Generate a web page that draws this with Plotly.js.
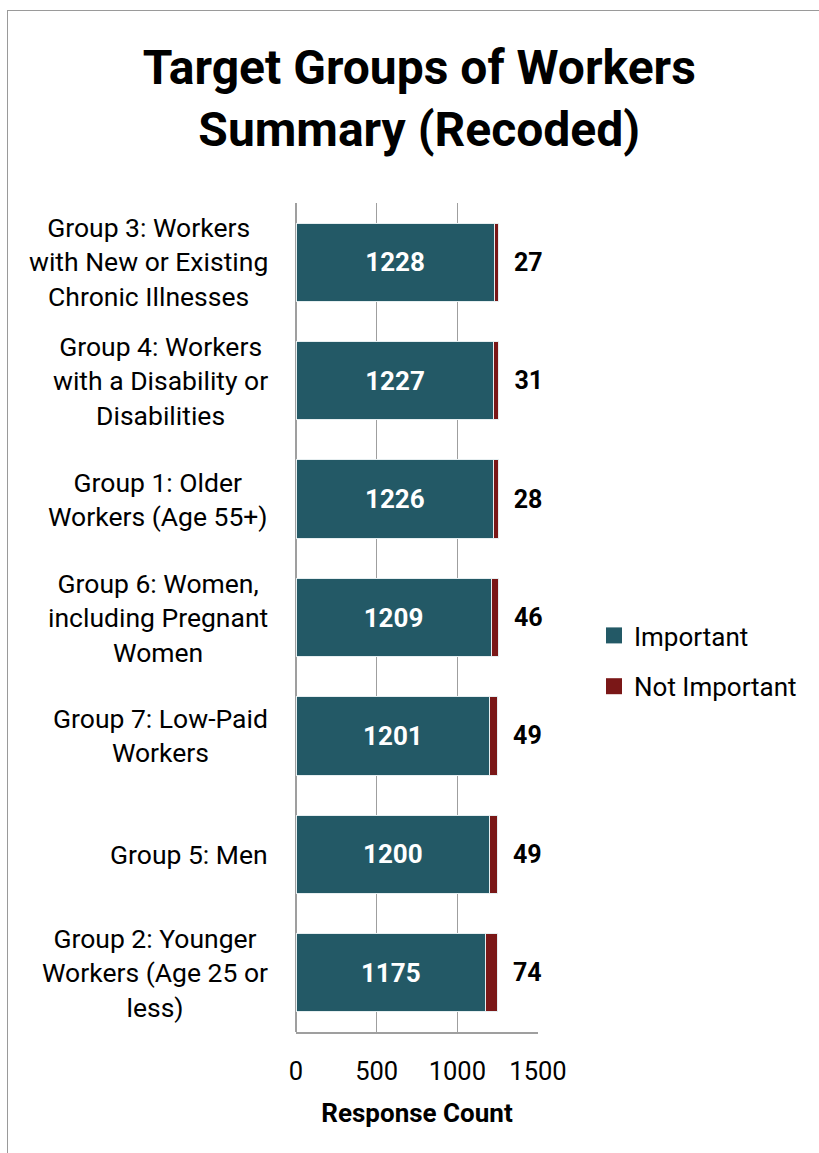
<!DOCTYPE html>
<html>
<head>
<meta charset="utf-8">
<script src="https://cdn.plot.ly/plotly-3.0.1.min.js"></script>
<style>
html,body{margin:0;padding:0;background:#fff;}
#wrap{position:relative;width:819px;height:1153px;overflow:hidden;}
#chart{position:absolute;left:0;top:0;width:819px;height:1153px;}
#frame{position:absolute;left:7px;top:10px;width:900px;height:1300px;border-left:1.5px solid #9a9a9a;border-top:1.5px solid #9a9a9a;pointer-events:none;}
</style>
</head>
<body>
<div id="wrap"><div id="chart"></div><div id="frame"></div></div>
<script>
const categories = [
  "Group 3: Workers<br>with New or Existing<br>Chronic Illnesses",
  "Group 4: Workers<br>with a Disability or<br>Disabilities",
  "Group 1: Older<br>Workers (Age 55+)",
  "Group 6: Women,<br>including Pregnant<br>Women",
  "Group 7: Low-Paid<br>Workers",
  "Group 5: Men",
  "Group 2: Younger<br>Workers (Age 25 or<br>less)"
];
const important = [1228, 1227, 1226, 1209, 1201, 1200, 1175];
const notImportant = [27, 31, 28, 46, 49, 49, 74];
const xTicks = [0, 500, 1000, 1500];
const seriesNames = ['Important', 'Not Important'];
const seriesColors = ['#235966', '#7a1717'];

const font = "Roboto, 'Noto Sans', sans-serif";

const traces = [
  {
    type: 'bar', orientation: 'h', name: seriesNames[0], showlegend: false,
    y: categories, x: important,
    marker: {color: seriesColors[0], line: {color: '#e6eef0', width: 1}},
    text: important.map(String), textposition: 'inside', insidetextanchor: 'middle',
    textfont: {family: font, size: 26, color: '#ffffff', weight: 'bold'},
    hoverinfo: 'x+name'
  },
  {
    type: 'bar', orientation: 'h', name: seriesNames[1], showlegend: false,
    y: categories, x: notImportant,
    marker: {color: seriesColors[1], line: {color: '#e6eef0', width: 1}},
    text: notImportant.map(v => '  ' + v), textposition: 'outside',
    textfont: {family: font, size: 25, color: '#000000', weight: 'bold'},
    cliponaxis: false,
    hoverinfo: 'x+name'
  }
];
// legend entries (square swatches)
seriesNames.forEach((n, i) => {
  traces.push({
    type: 'scatter', mode: 'markers', name: n, legendgroup: 'g' + i,
    x: [null], y: [null],
    marker: {symbol: 'square', size: 16, color: seriesColors[i]},
    hoverinfo: 'skip'
  });
});

const annotations = categories.map(c => ({
  xref: 'paper', yref: 'y', x: (270 - 296) / 242, y: c,
  xanchor: 'right', yanchor: 'middle', align: 'center',
  text: c, showarrow: false,
  font: {family: font, size: 26.5, color: '#000000'}
}));

const layout = {
  width: 819, height: 1153,
  paper_bgcolor: '#ffffff', plot_bgcolor: '#ffffff',
  font: {family: font, color: '#000000'},
  barmode: 'stack', bargap: 0.34,
  margin: {l: 296, r: 281, t: 203, b: 121, pad: 0},
  title: {
    text: 'Target Groups of Workers<br>Summary (Recoded)',
    font: {family: font, size: 48, color: '#000000', weight: 'bold'},
    x: 417/819, xanchor: 'center', xref: 'paper',
    y: 1 - 84/1153, yanchor: 'middle', yref: 'container'
  },
  xaxis: {
    range: [0, 1500], tickvals: xTicks, ticktext: xTicks.map(String),
    showgrid: true, gridcolor: '#9f9f9f', gridwidth: 1.5,
    zeroline: true, zerolinecolor: '#9f9f9f', zerolinewidth: 1.5,
    showline: true, linecolor: '#9f9f9f', linewidth: 1.5,
    ticks: 'outside', ticklen: 16, tickcolor: 'rgba(0,0,0,0)',
    tickfont: {family: font, size: 25.5, color: '#000000'},
    title: {text: 'Response Count', font: {family: font, size: 26, color: '#000000', weight: 'bold'}, standoff: 18},
    fixedrange: true
  },
  yaxis: {
    autorange: 'reversed', type: 'category',
    showgrid: false, zeroline: false, showline: false,
    showticklabels: false, ticks: '',
    fixedrange: true
  },
  annotations: annotations,
  legend: {
    x: 594/819, xref: 'container', xanchor: 'left',
    y: 1 - 661/1153, yref: 'container', yanchor: 'middle',
    font: {family: font, size: 26, color: '#000000'},
    traceorder: 'grouped', itemwidth: 30, tracegroupgap: 14,
    bgcolor: 'rgba(0,0,0,0)'
  },
  showlegend: true
};

Plotly.newPlot('chart', traces, layout, {displayModeBar: false, staticPlot: true});
</script>
</body>
</html>
